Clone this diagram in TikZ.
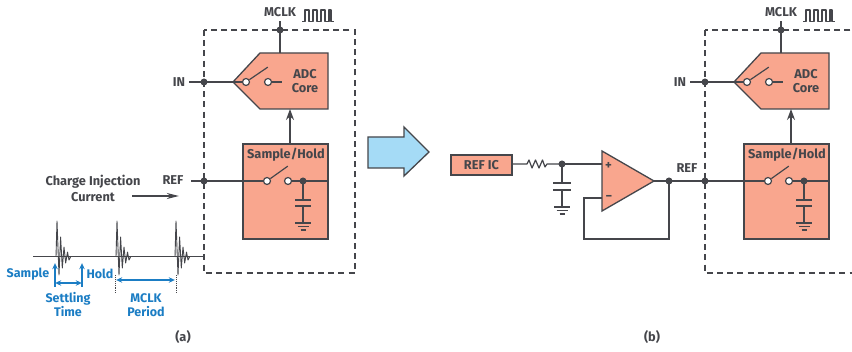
\documentclass[tikz,border=0pt]{standalone}
\usepackage{fontspec}
\setmainfont{Fira Sans}
\usetikzlibrary{arrows.meta}
\definecolor{ln}{HTML}{45464B}
\definecolor{salmon}{HTML}{F9A68E}
\definecolor{adiblue}{HTML}{1B7DC4}
\definecolor{skyb}{HTML}{A5DBF6}
\tikzset{
  wire/.style={draw=ln,line width=1.2pt},
  bx/.style={draw=ln,line width=1.3pt,fill=salmon},
  dashbox/.style={draw=ln,line width=1.2pt,dash pattern=on 6pt off 4.2pt},
  jdot/.style={circle,fill=ln,inner sep=0pt,minimum size=7pt},
  odot/.style={circle,draw=ln,fill=white,line width=1.2pt,inner sep=0pt,minimum size=7pt},
  lab/.style={font=\fontsize{12.8}{14.5}\selectfont\bfseries,text=ln,inner sep=0pt,align=center},
  wlab/.style={lab,font=\fontsize{12.8}{16}\selectfont\bfseries},
  blab/.style={font=\fontsize{12.5}{14}\selectfont\bfseries,text=adiblue,inner sep=0pt,align=center},
  barrow/.style={draw=adiblue,line width=1.1pt,-{Stealth[length=6pt,width=5.5pt]}},
  bdouble/.style={draw=adiblue,line width=1.1pt,{Stealth[length=6pt,width=5.5pt]}-{Stealth[length=6pt,width=5.5pt]}},
  bdot/.style={draw=ln,line width=.9pt,densely dotted},
  sig/.style={draw=ln,line width=1pt,line join=round},
  pt/.style={inner sep=0pt,minimum size=0pt},
}
\newcommand{\gndsym}[2]{%
  \draw[wire] ([xshift=-#2pt]#1) -- ([xshift=#2pt]#1);
  \draw[wire] ([xshift=-#2pt+2.5pt,yshift=-3.5pt]#1) -- ([xshift=#2pt-2.5pt,yshift=-3.5pt]#1);
  \draw[wire] ([xshift=-2.5pt,yshift=-7pt]#1) -- ([xshift=2.5pt,yshift=-7pt]#1);
}
\newcommand{\adcblock}[2]{%
\begin{scope}[xshift=#1pt]
  \draw[dashbox] (204,30) rectangle (355,273);
  \draw[bx,line join=miter] (233,82) coordinate (#2tip) -- (260,53) -- (328,53) -- (328,109) -- (260,109) -- cycle;
  \coordinate (#2adctop) at (280,53);
  \coordinate (#2adcbot) at (290,109);
  \node[bx,minimum width=85pt,minimum height=95pt,inner sep=0pt] (#2sh) at (285.5,191.5) {};
  \node[lab] (#2shlab) at (286,154.5) {Sample/Hold};
  \node[lab] (#2adclab) at (305,81) {ADC\\Core};
  \node[lab] (#2mclk) at (280,12) {MCLK};
  \node[lab] (#2in) at (179,82) {IN};
  \node[jdot] (#2mdot) at (280,30) {};
  \node[jdot] (#2idot) at (204,82) {};
  \node[jdot] (#2rdot) at (204,181) {};
  \node[pt] (#2mtop) at (280,21) {};
  \node[pt] (#2iend) at (189,82) {};
  \draw[wire] (#2mtop) -- (#2mdot.center) -- (#2adctop);
  \draw[wire] (#2iend) -- (#2idot.center) -- (#2tip);
  \draw[sig,line width=1.1pt] (302,21.5) -- (305,21.5) -- (305,10) -- (309,10) -- (309,21.5) -- (313,21.5) -- (313,10) -- (317,10) -- (317,21.5) -- (321,21.5) -- (321,10) -- (325,10) -- (325,21.5) -- (329,21.5) -- (329,10) -- (331,10) -- (331,21.5) -- (334,21.5);
  \node[odot] (#2s1) at (246,82) {};
  \node[odot] (#2s2) at (268,82) {};
  \node[pt] (#2s3) at (282,82) {};
  \node[pt] (#2arm1) at (268,67) {};
  \draw[wire] (#2tip) -- (#2s1);
  \draw[wire] (#2s1) -- (#2arm1);
  \draw[wire] (#2s2) -- (#2s3);
  \draw[wire,-{Stealth[length=11pt,width=8pt]}] (#2sh.north -| #2adcbot) -- (#2adcbot);
  \node[odot] (#2t1) at (267,181) {};
  \node[odot] (#2t2) at (288,181) {};
  \node[pt] (#2arm2) at (288,166) {};
  \node[jdot] (#2cdot) at (303,181) {};
  \node[pt] (#2shr) at (328,181) {};
  \draw[wire] (#2rdot.center) -- (#2t1);
  \draw[wire] (#2t1) -- (#2arm2);
  \draw[wire] (#2t2) -- (#2cdot.center) -- (#2shr);
  \coordinate (#2c1) at (303,200);
  \coordinate (#2c2) at (303,206);
  \coordinate (#2g) at (303,223);
  \draw[wire] (#2cdot.center) -- (#2c1);
  \draw[wire] (#2c2) -- (#2g);
  \draw[wire] ([xshift=-8pt]#2c1) -- ([xshift=8pt]#2c1);
  \draw[wire] ([xshift=-8pt]#2c2) -- ([xshift=8pt]#2c2);
  \gndsym{#2g}{8}
\end{scope}}
\begin{document}
\begin{tikzpicture}[x=1pt,y=-1pt]
\useasboundingbox (0,0) rectangle (852,352);
\fill[white] (0,0) rectangle (852,352);
\clip (0,0) rectangle (852,352);

\adcblock{0}{a}
\adcblock{501}{b}

% part (a), left side
\node[lab] (refa) at (173,180.5) {REF};
\node[pt] (refaend) at (191,181) {};
\draw[wire] (refaend) -- (ardot.center);
\node[wlab] (chg) at (93,188) {Charge Injection\\Current};
\node[pt] (ci1) at (132,196) {};
\node[pt] (ci2) at (179,196) {};
\draw[wire,-{Stealth[length=12pt,width=6pt]}] (ci1) -- (ci2);

% waveform
\node[pt] (w0) at (33,257) {};
\node[pt] (w1) at (204,257) {};
\draw[sig] (w0) -- (w1);
\foreach \sx in {57,117,176}
  \draw[sig,line width=.9pt] (\sx-1,257) -- (\sx,221) -- (\sx+2,275) -- (\sx+3.6,237) -- (\sx+5.3,268) -- (\sx+7,247) -- (\sx+8.7,263) -- (\sx+10.5,252) -- (\sx+12,260) -- (\sx+13.5,257);

% timing annotations
\node[blab] (samp) at (28,274) {Sample};
\node[blab] (hold) at (100,274) {Hold};
\node[pt] (sb) at (55,287) {};
\node[pt] (st) at (55,263) {};
\node[pt] (hb) at (82,287) {};
\node[pt] (ht) at (82,263) {};
\draw[barrow] (sb) -- (st);
\draw[barrow] (hb) -- (ht);
\node[pt] (sm) at (55,283) {};
\node[pt] (hm) at (82,283) {};
\draw[bdouble] (sm) -- (hm);
\node[blab] (settle) at (68,305) {Settling\\Time};
\node[pt] (d1t) at (115,275) {};
\node[pt] (d1b) at (115,293) {};
\node[pt] (d2t) at (176,275) {};
\node[pt] (d2b) at (176,293) {};
\draw[bdot] (d1t) -- (d1b);
\draw[bdot] (d2t) -- (d2b);
\node[pt] (p1) at (116,280) {};
\node[pt] (p2) at (175,280) {};
\draw[bdouble] (p1) -- (p2);
\node[blab] (period) at (146,305) {MCLK\\Period};
\node[lab] (capa) at (183,337) {(a)};
\node[lab] (capb) at (652,337) {(b)};

% big arrow
\draw[draw=ln,line width=1.3pt,fill=skyb,line join=miter] (368,137) -- (404,137) -- (404,127) -- (429,152) -- (404,176) -- (404,168) -- (368,168) -- cycle;

% part (b)
\node[bx,minimum width=61pt,minimum height=20pt,inner sep=0pt] (refic) at (481.5,165) {};
\node[lab] (reficlab) at (481.5,165) {REF IC};
\node[jdot] (nd) at (562,164) {};
\draw[wire,line join=round] (refic.east |- nd) -- (527,164) -- (529,160) -- (532,168) -- (535.5,160) -- (539,168) -- (542.5,160) -- (545,167) -- (547,164) -- (nd.center);
\coordinate (c1) at (562,183);
\coordinate (c2) at (562,190);
\coordinate (g) at (562,207);
\draw[wire] (nd.center) -- (c1);
\draw[wire] (c2) -- (g);
\draw[wire] ([xshift=-9pt]c1) -- ([xshift=9pt]c1);
\draw[wire] ([xshift=-9pt]c2) -- ([xshift=9pt]c2);
\gndsym{g}{8}
\draw[bx,line join=miter] (602,151) coordinate (oa1) -- (602,211) coordinate (oa2) -- (654,181) coordinate (oaout) -- cycle;
\coordinate (oap) at (602,164);
\coordinate (oam) at (602,198);
\draw[wire] (nd.center) -- (oap);
\node[lab] (plus) at (608.5,166) {+};
\node[lab] (minus) at (609,198) {\textminus};
\node[jdot] (fb) at (669,181) {};
\draw[wire] (oaout) -- (fb.center) -- (brdot.center);
\draw[wire,line join=miter] (oam) -- (584,198) -- (584,239) -- (669,239) -- (fb.center);
\node[lab] (refb) at (687,168) {REF};
\end{tikzpicture}
\end{document}
